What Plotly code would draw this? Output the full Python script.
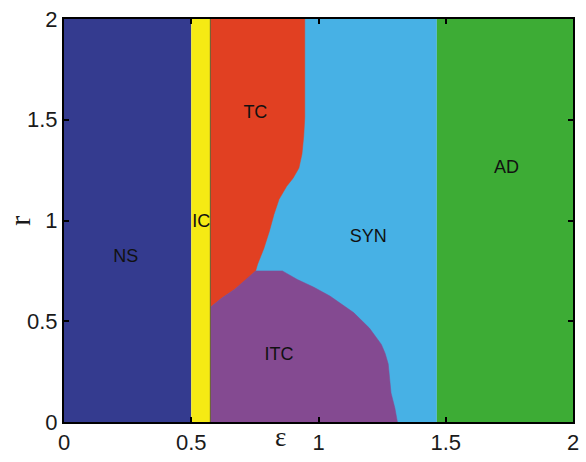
import plotly.graph_objects as go

# Phase diagram in the (epsilon, r) plane
EPS_MAX, R_MAX = 2.0, 2.0

# vertical band limits in epsilon
ns_eps = [0.0, 0.5]
ic_eps = [0.5, 0.575]
syn_eps = [0.575, 1.465]
ad_eps = [1.465, 2.0]

# TC region outline (epsilon, r)
tc_eps = [0.575, 0.946, 0.946, 0.942, 0.935, 0.923, 0.90, 0.875, 0.845, 0.825,
          0.807, 0.785, 0.761, 0.753, 0.71, 0.671, 0.62, 0.575]
tc_r = [2.0, 2.0, 1.51, 1.42, 1.33, 1.26, 1.21, 1.17, 1.105, 1.03,
        0.947, 0.86, 0.784, 0.75, 0.70, 0.659, 0.615, 0.569]

# ITC region outline (epsilon, r)
itc_eps = [0.575, 1.31, 1.30, 1.285, 1.274, 1.262, 1.247, 1.2, 1.138, 1.045,
           0.98, 0.917, 0.858, 0.753, 0.671, 0.62, 0.575]
itc_r = [0.0, 0.0, 0.07, 0.144, 0.288, 0.34, 0.385, 0.466, 0.543, 0.625,
         0.67, 0.707, 0.75, 0.75, 0.659, 0.615, 0.569]

region_names = ["NS", "IC", "TC", "SYN", "ITC", "AD"]
label_eps = [0.243, 0.539, 0.752, 1.196, 0.845, 1.739]
label_r = [0.815, 0.99, 1.53, 0.915, 0.33, 1.26]

colors = {
    "NS": "#343B8F",
    "IC": "#F5EA14",
    "TC": "#E14022",
    "SYN": "#47B1E5",
    "ITC": "#844A91",
    "AD": "#3DAC35",
}

x_ticks = [0, 0.5, 1, 1.5, 2]
y_ticks = [0, 0.5, 1, 1.5, 2]


def band(e, name):
    return go.Scatter(
        x=[e[0], e[1], e[1], e[0], e[0]],
        y=[0, 0, R_MAX, R_MAX, 0],
        fill="toself", fillcolor=colors[name], mode="lines",
        line=dict(width=0, color=colors[name]), hoverinfo="skip",
        showlegend=False,
    )


fig = go.Figure()
fig.add_trace(band(ns_eps, "NS"))
fig.add_trace(band(ic_eps, "IC"))
fig.add_trace(band(syn_eps, "SYN"))
fig.add_trace(band(ad_eps, "AD"))
fig.add_trace(go.Scatter(x=tc_eps, y=tc_r, fill="toself", fillcolor=colors["TC"],
                         mode="lines", line=dict(width=0.5, color=colors["TC"]),
                         hoverinfo="skip", showlegend=False))
fig.add_trace(go.Scatter(x=itc_eps, y=itc_r, fill="toself", fillcolor=colors["ITC"],
                         mode="lines", line=dict(width=0.5, color=colors["ITC"]),
                         hoverinfo="skip", showlegend=False))
# thin edge on the right side of the IC strip
fig.add_trace(go.Scatter(x=[ic_eps[1], ic_eps[1]], y=[0, R_MAX], mode="lines",
                         line=dict(width=1, color="#6b5f2a"), hoverinfo="skip",
                         showlegend=False))

fig.add_trace(go.Scatter(
    x=label_eps, y=label_r, text=region_names, mode="text",
    textfont=dict(family="Liberation Sans, Arial", size=18, color="#111"),
    hoverinfo="skip", showlegend=False,
))

axis_common = dict(
    showline=True, linecolor="black", linewidth=2, mirror="ticks",
    ticks="inside", ticklen=5, tickwidth=1.5, tickcolor="black",
    showgrid=False, zeroline=False,
    tickfont=dict(family="Liberation Sans, Arial", size=22, color="#1a1a1a"),
)

fig.update_xaxes(range=[0, EPS_MAX], tickvals=x_ticks,
                 ticktext=[f"{v:g}" for v in x_ticks], **axis_common)
fig.update_yaxes(range=[0, R_MAX], tickvals=y_ticks,
                 ticktext=[f"{v:g}" for v in y_ticks], **axis_common)

fig.add_annotation(text="ε", x=0.85, y=-0.076, xref="x", yref="paper",
                   yanchor="bottom", showarrow=False, borderpad=0,
                   font=dict(family="Liberation Serif, Times New Roman", size=27, color="#1a1a1a"))
fig.add_annotation(text="r", x=-0.088, y=1.0, xref="paper", yref="y",
                   textangle=-90, showarrow=False, xanchor="center",
                   font=dict(family="Liberation Serif, Times New Roman", size=30, color="#1a1a1a"))

fig.update_layout(
    width=586, height=462,
    margin=dict(l=64, r=7, t=14, b=32),
    paper_bgcolor="white", plot_bgcolor="white",
)

fig.write_html("out.html")
